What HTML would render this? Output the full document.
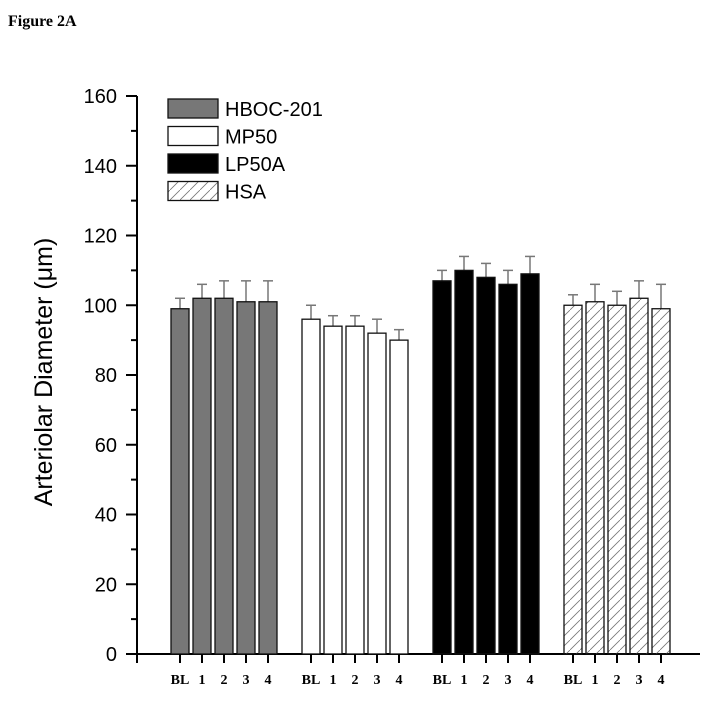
<!DOCTYPE html>
<html><head><meta charset="utf-8"><style>body{margin:0;background:#fff}</style></head>
<body>
<svg id="chart" width="714" height="698" xmlns="http://www.w3.org/2000/svg" font-family="Liberation Sans, sans-serif">
<defs><pattern id="hatch" width="10" height="10" patternUnits="userSpaceOnUse"><path d="M-1,11 L11,-1" stroke="#777" stroke-width="0.8"/></pattern></defs>
<text x="8" y="26" font-family="Liberation Serif, serif" font-weight="bold" font-size="16">Figure 2A</text>
<text transform="translate(52,372) rotate(-90)" text-anchor="middle" font-size="25">Arteriolar Diameter (μm)</text>
<g id="g"></g>
</svg>
<script>
const groups = ['HBOC-201','MP50','LP50A','HSA'];
const timepoints = ['BL','1','2','3','4'];
const hboc = [99,102,102,101,101];
const hbocErr = [3,4,5,6,6];
const mp50 = [96,94,94,92,90];
const mp50Err = [4,3,3,4,3];
const lp50a = [107,110,108,106,109];
const lp50aErr = [3,4,4,4,5];
const hsa = [100,101,100,102,99];
const hsaErr = [3,5,4,5,7];
const yTicks = [0,20,40,60,80,100,120,140,160];
const series = [hboc,mp50,lp50a,hsa];
const errs = [hbocErr,mp50Err,lp50aErr,hsaErr];
const fills = ['#777','#fff','#000','url(#hatch)'];
const NS='http://www.w3.org/2000/svg';
const g=document.getElementById('g');
const y0=654, ppu=(654-96)/160;
const Y=v=>y0-v*ppu;
const X=(gi,ti)=>171+gi*131+ti*22;
const bw=18;
function mk(t,a){const e=document.createElementNS(NS,t);for(const k in a)e.setAttribute(k,a[k]);g.appendChild(e);return e;}
let e=mk('line',{x1:137,y1:96,x2:137,y2:655,stroke:'#000','stroke-width':2});


e=mk('line',{x1:136,y1:654,x2:700,y2:654,stroke:'#000','stroke-width':2});


yTicks.forEach(v=>{
  let t=mk('line',{x1:126,y1:Y(v),x2:137,y2:Y(v),stroke:'#000','stroke-width':2});
  
  
  let l=mk('text',{x:117,y:Y(v)+7,'text-anchor':'end','font-size':20});
  l.textContent=v;
  
  
  if(v<160){let m=mk('line',{x1:131,y1:Y(v+10),x2:137,y2:Y(v+10),stroke:'#000','stroke-width':2});
  
  }
});
e=mk('line',{x1:137,y1:654,x2:137,y2:663,stroke:'#000','stroke-width':2});


series.forEach((s,gi)=>{
  s.forEach((v,ti)=>{
    const x=X(gi,ti), er=errs[gi][ti], cx=x+bw/2;
    let l=mk('line',{x1:cx,y1:Y(v),x2:cx,y2:Y(v+er),stroke:'#777','stroke-width':1.5});
    
    
    let c=mk('line',{x1:cx-5,y1:Y(v+er),x2:cx+5,y2:Y(v+er),stroke:'#777','stroke-width':1.5});
    
    
    let r=mk('rect',{x:x,y:Y(v),width:bw,height:Y(0)-Y(v),fill:fills[gi],stroke:'#111','stroke-width':1.3});
    
    
    let t=mk('line',{x1:cx,y1:654,x2:cx,y2:663,stroke:'#000','stroke-width':2});
    
    
    let tl=mk('text',{x:cx,y:684,'text-anchor':'middle','font-size':14,'font-weight':'bold','font-family':'Liberation Serif, serif'});
    tl.textContent=timepoints[ti];
    
    
  });
});
groups.forEach((n,i)=>{
  const yy=99+i*27.5;
  let r=mk('rect',{x:168,y:yy,width:50,height:19,fill:fills[i],stroke:'#111','stroke-width':1.3});
  
  
  let t=mk('text',{x:225,y:yy+17,'font-size':20});
  t.textContent=n;
  
  
});
</script>
</body></html>
